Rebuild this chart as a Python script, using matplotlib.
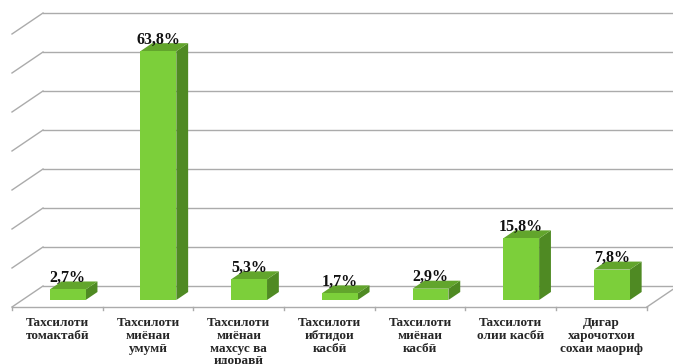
import matplotlib
matplotlib.use("Agg")
import matplotlib.pyplot as plt
from matplotlib.patches import Polygon

plt.rcParams["font.family"] = ["Liberation Serif", "DejaVu Serif"]

categories = [
    "Тахсилоти\nтомактабӣ",
    "Тахсилоти\nмиёнаи\nумумӣ",
    "Тахсилоти\nмиёнаи\nмахсус ва\nидоравӣ",
    "Тахсилоти\nибтидои\nкасбӣ",
    "Тахсилоти\nмиёнаи\nкасбӣ",
    "Тахсилоти\nолии касбӣ",
    "Дигар\nхарочотхои\nсохаи маориф",
]
values = [2.7, 63.8, 5.3, 1.7, 2.9, 15.8, 7.8]
grid_levels = [0, 10, 20, 30, 40, 50, 60, 70]

# fake 3d: depth shifts points right and up
DX = 0.342   # category units from front to back
DY = 5.385   # value units from front to back
FRONT_D, BACK_D = 0.333, 0.714  # bar depth span
HALF_W = 0.198

FACE = "#7ccf3a"
SIDE = "#4f8a23"
TOP = "#62a52c"
GRID = "#ababab"


def proj(x, v, d):
    return (x + d * DX, v - (1 - d) * DY)


fig = plt.figure(figsize=(6.73, 3.64), dpi=100)
ax = fig.add_axes([0, 0, 1, 1])
ax.set_xlim(-0.1323, 7.288)
ax.set_ylim(-20.0, 73.33)
ax.axis("off")

n = len(values)

# back wall gridlines and left wall edges
for g in grid_levels:
    ax.plot([DX, n + DX + 1], [g, g], color=GRID, lw=1, zorder=1)
    ax.plot([0, DX], [g - DY, g], color=GRID, lw=1, zorder=1)

# floor
ax.plot([0, n], [-DY, -DY], color=GRID, lw=1, zorder=1)
ax.plot([n, n + DX], [-DY, 0], color=GRID, lw=1, zorder=1)
for i in range(n + 1):
    ax.plot([i, i], [-DY, -DY - 0.8], color=GRID, lw=1, zorder=1)

for i, v in enumerate(values):
    xc = i + 0.5
    xl, xr = xc - HALF_W, xc + HALF_W
    d0, d1 = FRONT_D, BACK_D
    front = [proj(xl, 0, d0), proj(xr, 0, d0), proj(xr, v, d0), proj(xl, v, d0)]
    side = [proj(xr, 0, d0), proj(xr, 0, d1), proj(xr, v, d1), proj(xr, v, d0)]
    top = [proj(xl, v, d0), proj(xr, v, d0), proj(xr, v, d1), proj(xl, v, d1)]
    ax.add_patch(Polygon(side, closed=True, facecolor=SIDE, edgecolor="none", zorder=3))
    ax.add_patch(Polygon(top, closed=True, facecolor=TOP, edgecolor="none", zorder=3))
    ax.add_patch(Polygon(front, closed=True, facecolor=FACE, edgecolor="none", zorder=4))

    lx, ly = proj(xc, v, d0)
    ax.text(lx, ly + 3.0, f"{v:.1f}".replace(".", ",") + "%",
            ha="center", va="center", fontsize=11.5, fontweight="bold",
            color="#111111", zorder=5)

    ax.text(xc, -DY - 2.5, categories[i], ha="center", va="top",
            fontsize=9.5, fontweight="bold", color="#262626",
            linespacing=1.1, zorder=5)

fig.savefig("out.png", dpi=100)
